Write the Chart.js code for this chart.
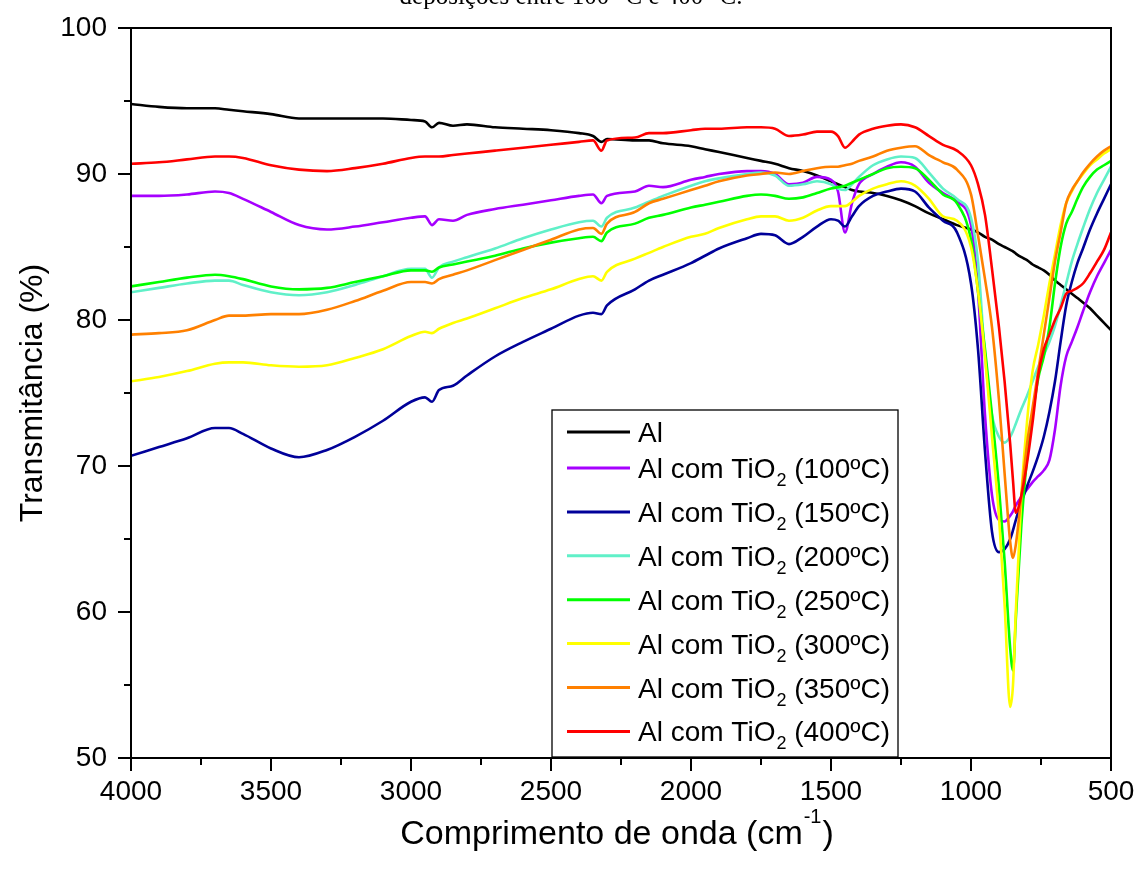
<!DOCTYPE html>
<html>
<head>
<meta charset="utf-8">
<title>FTIR - Al com TiO2</title>
<script src="https://cdn.jsdelivr.net/npm/chart.js@4.4.0/dist/chart.umd.min.js"></script>
<style>
  html, body { margin: 0; padding: 0; background: #fff; }
  #wrap { width: 1138px; height: 872px; }
</style>
</head>
<body>
<div id="wrap"><canvas id="ftir" width="1138" height="872"></canvas></div>
<script>
// ============================================================================
// Data
// ============================================================================

const WAVENUMBER = [
  4000, 3900, 3800, 3700, 3650, 3600,
  3500, 3400, 3300, 3200, 3100, 3000,
  2950, 2925, 2900, 2850, 2800,
  2700, 2600, 2500, 2400, 2350, 2320, 2300,
  2200, 2150, 2100, 2000, 1950, 1900,
  1800, 1750, 1700, 1650, 1600, 1550,
  1500, 1475, 1450, 1425, 1400,
  1350, 1300, 1250, 1200, 1150, 1100, 1050,
  1000, 975, 950, 925, 900,
  880, 860, 850, 840, 820, 800,
  780, 760, 740, 720, 700,
  680, 660, 640, 620, 600,
  575, 550, 525, 500
];

const T_AL = [
  94.8, 94.6, 94.5, 94.5, 94.4, 94.3,
  94.1, 93.8, 93.8, 93.8, 93.8, 93.7,
  93.6, 93.2, 93.5, 93.3, 93.4,
  93.2, 93.1, 93.0, 92.8, 92.6, 92.2, 92.4,
  92.3, 92.3, 92.1, 91.9, 91.7, 91.5,
  91.1, 90.9, 90.7, 90.4, 90.2, 89.9,
  89.5, 89.3, 89.1, 88.9, 88.8,
  88.7, 88.5, 88.2, 87.8, 87.3, 86.9, 86.5,
  86.2, 86.0, 85.7, 85.5, 85.2,
  85.0, 84.8, 84.7, 84.55, 84.3, 84.1,
  83.8, 83.6, 83.4, 83.1, 82.7,
  82.4, 82.1, 81.8, 81.5, 81.2,
  80.8, 80.3, 79.8, 79.3
];

const T_100 = [
  88.5, 88.5, 88.6, 88.8, 88.7, 88.3,
  87.4, 86.5, 86.2, 86.4, 86.7, 87.0,
  87.1, 86.5, 86.9, 86.8, 87.2,
  87.6, 87.9, 88.2, 88.5, 88.6, 88.0, 88.5,
  88.8, 89.2, 89.1, 89.6, 89.8, 90.0,
  90.2, 90.2, 90.0, 89.3, 89.4, 89.8,
  89.6, 88.8, 86.0, 88.0, 89.3,
  90.0, 90.5, 90.8, 90.5, 89.4, 88.7, 88.1,
  86.5, 82.0, 73.5, 68.0, 66.3,
  66.2, 66.6, 66.9, 67.3, 67.9, 68.4,
  68.9, 69.3, 69.7, 70.4, 72.5,
  75.5, 77.5, 78.5, 79.5, 80.6,
  81.9, 83.0, 83.9, 84.8
];

const T_150 = [
  70.7, 71.3, 71.9, 72.6, 72.6, 72.2,
  71.2, 70.6, 71.1, 72.0, 73.1, 74.4,
  74.7, 74.4, 75.2, 75.5, 76.2,
  77.5, 78.5, 79.4, 80.3, 80.5, 80.4, 81.0,
  82.1, 82.7, 83.1, 83.9, 84.4, 84.9,
  85.6, 85.9, 85.8, 85.2, 85.7, 86.4,
  86.9, 86.8, 86.4, 87.1, 87.8,
  88.5, 88.8, 89.0, 88.8, 87.7, 86.8, 86.0,
  82.5, 78.0, 71.0, 65.5, 64.1,
  64.3, 65.0, 65.6, 66.3, 67.5, 68.6,
  69.6, 70.7, 72.0, 73.7, 75.8,
  78.5, 81.0, 82.6, 83.9, 84.9,
  86.2, 87.3, 88.3, 89.3
];

const T_200 = [
  81.9, 82.2, 82.5, 82.7, 82.7, 82.4,
  81.9, 81.7, 81.9, 82.4, 83.0, 83.5,
  83.5, 82.9, 83.6, 84.0, 84.3,
  84.9, 85.6, 86.2, 86.7, 86.8, 86.4, 87.0,
  87.7, 88.1, 88.5, 89.2, 89.5, 89.7,
  90.0, 90.1, 89.9, 89.2, 89.3, 89.5,
  89.3, 89.0, 88.9, 89.3, 89.8,
  90.6, 91.0, 91.2, 91.1, 90.1, 89.0, 88.3,
  87.0, 84.0, 77.5, 73.5, 72.0,
  71.6, 72.0, 72.4, 72.9, 73.9, 74.8,
  75.8, 76.8, 77.6, 78.5, 79.6,
  81.0, 82.5, 84.0, 85.2, 86.3,
  87.6, 88.7, 89.6, 90.5
];

const T_250 = [
  82.3, 82.6, 82.9, 83.1, 83.0, 82.8,
  82.3, 82.1, 82.2, 82.6, 83.0, 83.4,
  83.4, 83.3, 83.6, 83.8, 84.0,
  84.4, 84.9, 85.3, 85.6, 85.7, 85.4, 86.0,
  86.6, 87.0, 87.2, 87.7, 87.9, 88.1,
  88.5, 88.6, 88.5, 88.3, 88.4, 88.7,
  89.0, 89.1, 89.2, 89.4, 89.6,
  90.0, 90.4, 90.5, 90.4, 89.6, 88.6, 88.0,
  85.5, 82.0, 78.0, 73.5, 68.5,
  63.5, 57.5, 56.0, 59.5, 66.0, 70.5,
  73.5, 76.0, 77.5, 79.5, 82.5,
  85.0, 86.6, 87.4, 88.3, 89.1,
  89.8, 90.3, 90.6, 90.9
];

const T_300 = [
  75.8, 76.1, 76.5, 77.0, 77.1, 77.1,
  76.9, 76.8, 76.9, 77.4, 78.0, 78.9,
  79.2, 79.1, 79.4, 79.8, 80.1,
  80.8, 81.5, 82.1, 82.8, 83.0, 82.7, 83.3,
  84.2, 84.6, 85.0, 85.7, 85.9, 86.3,
  86.9, 87.1, 87.1, 86.8, 87.0, 87.5,
  87.8, 87.8, 87.8, 88.1, 88.5,
  89.0, 89.3, 89.5, 89.2, 88.3, 87.1, 86.8,
  85.0, 82.0, 77.5, 72.0, 66.5,
  60.5, 53.5, 55.0, 60.0, 68.0, 73.0,
  76.5, 78.3, 80.3, 82.5, 84.5,
  86.5, 88.0, 88.8, 89.5, 90.0,
  90.6, 91.0, 91.4, 91.7
];

const T_350 = [
  79.0, 79.1, 79.3, 80.0, 80.3, 80.3,
  80.4, 80.4, 80.7, 81.3, 82.0, 82.6,
  82.6, 82.5, 82.8, 83.1, 83.4,
  84.1, 84.8, 85.5, 86.2, 86.3, 85.9, 86.6,
  87.4, 88.0, 88.3, 88.9, 89.2, 89.5,
  89.9, 90.0, 90.1, 90.0, 90.2, 90.4,
  90.5, 90.5, 90.6, 90.7, 90.9,
  91.2, 91.6, 91.8, 91.9, 91.3, 90.8, 90.3,
  88.6, 85.8, 82.8, 79.5, 74.5,
  69.5, 64.8, 63.7, 64.6, 68.0, 71.5,
  74.0, 76.5, 79.0, 81.5, 84.0,
  86.0, 88.0, 88.9, 89.5, 90.1,
  90.7, 91.2, 91.6, 91.9
];

const T_400 = [
  90.7, 90.8, 91.0, 91.2, 91.2, 91.1,
  90.6, 90.3, 90.2, 90.4, 90.7, 91.1,
  91.2, 91.2, 91.2, 91.3, 91.4,
  91.6, 91.8, 92.0, 92.2, 92.3, 91.6, 92.3,
  92.5, 92.8, 92.8, 93.0, 93.1, 93.1,
  93.2, 93.2, 93.1, 92.6, 92.7, 92.9,
  92.9, 92.6, 91.8, 92.2, 92.7,
  93.1, 93.3, 93.4, 93.2, 92.6, 92.0, 91.6,
  90.6, 89.3, 87.2, 83.5, 79.5,
  75.8, 71.5, 69.0, 66.8, 68.0, 70.2,
  73.0, 76.2, 78.0, 79.0, 80.0,
  80.8, 81.8, 82.0, 82.2, 82.5,
  83.2, 84.0, 84.8, 86.0
];

const SERIES_LABELS = [
  'Al',
  'Al com TiO2 (100ºC)',
  'Al com TiO2 (150ºC)',
  'Al com TiO2 (200ºC)',
  'Al com TiO2 (250ºC)',
  'Al com TiO2 (300ºC)',
  'Al com TiO2 (350ºC)',
  'Al com TiO2 (400ºC)'
];
const SERIES_VALUES = [T_AL, T_100, T_150, T_200, T_250, T_300, T_350, T_400];
const SERIES_COLORS = [
  '#000000', '#a600ff', '#000099', '#60f0c8',
  '#00ff00', '#ffff00', '#ff8000', '#ff0000'
];

const X_MIN = 500, X_MAX = 4000, X_MAJOR = 500, X_MINOR = 250;
const Y_MIN = 50, Y_MAX = 100, Y_MAJOR = 10, Y_MINOR = 5;

const FONT = "'Liberation Sans', Arial, sans-serif";

// ============================================================================
// Plugins: frame + ticks, axis titles, legend
// ============================================================================

const framePlugin = {
  id: 'frame',
  afterDraw(chart) {
    const { ctx, chartArea: a, scales: { x, y } } = chart;
    ctx.save();
    ctx.strokeStyle = '#000';
    ctx.lineWidth = 2;
    ctx.strokeRect(a.left, a.top, a.right - a.left, a.bottom - a.top);

    // outward ticks, major + minor
    ctx.beginPath();
    for (let v = X_MIN; v <= X_MAX; v += X_MINOR) {
      const px = Math.round(x.getPixelForValue(v));
      const len = v % X_MAJOR === 0 ? 13 : 7;
      ctx.moveTo(px, a.bottom);
      ctx.lineTo(px, a.bottom + len);
    }
    for (let v = Y_MIN; v <= Y_MAX; v += Y_MINOR) {
      const py = Math.round(y.getPixelForValue(v));
      const len = v % Y_MAJOR === 0 ? 13 : 7;
      ctx.moveTo(a.left, py);
      ctx.lineTo(a.left - len, py);
    }
    ctx.stroke();

    ctx.fillStyle = '#000';

    // caption cut off at the top of the figure
    ctx.font = "25px 'Liberation Serif', 'Times New Roman', serif";
    ctx.textAlign = 'center';
    ctx.textBaseline = 'alphabetic';
    ctx.fillText('deposições entre 100 °C e 400 °C.', 571, 4);

    // y axis title
    ctx.save();
    ctx.translate(42, (a.top + a.bottom) / 2);
    ctx.rotate(-Math.PI / 2);
    ctx.font = '32px ' + FONT;
    ctx.textAlign = 'center';
    ctx.fillText('Transmitância (%)', 0, 0);
    ctx.restore();

    // x axis title with superscript
    const big = '34px ' + FONT, small = '20px ' + FONT;
    const p1 = 'Comprimento de onda (cm', sup = '-1', p2 = ')';
    ctx.font = big;
    const w1 = ctx.measureText(p1).width, w3 = ctx.measureText(p2).width;
    ctx.font = small;
    const w2 = ctx.measureText(sup).width;
    let tx = (a.left + a.right) / 2 - (w1 + w2 + w3 + 2) / 2 - 4;
    const base = 844;
    ctx.textAlign = 'left';
    ctx.font = big;
    ctx.fillText(p1, tx, base);
    tx += w1 + 1;
    ctx.font = small;
    ctx.fillText(sup, tx, base - 21);
    tx += w2 + 1;
    ctx.font = big;
    ctx.fillText(p2, tx, base);

    ctx.restore();
  }
};

const legendPlugin = {
  id: 'subLegend',
  afterDatasetsDraw(chart) {
    const ctx = chart.ctx;
    const box = { left: 552, top: 410, right: 898, bottom: 757 };
    ctx.save();
    ctx.fillStyle = '#fff';
    ctx.fillRect(box.left, box.top, box.right - box.left, box.bottom - box.top);
    ctx.strokeStyle = '#000';
    ctx.lineWidth = 1.3;
    ctx.strokeRect(box.left, box.top, box.right - box.left, box.bottom - box.top);

    const big = '28px ' + FONT, small = '18px ' + FONT;
    SERIES_LABELS.forEach((label, i) => {
      const rowY = i === 0 ? 432 : 468 + (i - 1) * 43.9;
      ctx.strokeStyle = SERIES_COLORS[i];
      ctx.lineWidth = 3;
      ctx.beginPath();
      ctx.moveTo(567, rowY);
      ctx.lineTo(630, rowY);
      ctx.stroke();

      ctx.fillStyle = '#000';
      ctx.textAlign = 'left';
      ctx.textBaseline = 'alphabetic';
      const base = rowY + 10;
      let tx = 638;
      const parts = label.split('TiO2');
      ctx.font = big;
      if (parts.length === 1) {
        ctx.fillText(label, tx, base);
        return;
      }
      const head = parts[0] + 'TiO';
      ctx.fillText(head, tx, base);
      tx += ctx.measureText(head).width + 1;
      ctx.font = small;
      ctx.fillText('2', tx, base + 8);
      tx += ctx.measureText('2').width;
      ctx.font = big;
      ctx.fillText(parts[1], tx, base);
    });
    ctx.restore();
  }
};

// ============================================================================
// Chart
// ============================================================================

const datasets = SERIES_LABELS.map((label, i) => ({
  label: label,
  data: WAVENUMBER.map((w, k) => ({ x: w, y: SERIES_VALUES[i][k] })),
  borderColor: SERIES_COLORS[i],
  backgroundColor: SERIES_COLORS[i],
  borderWidth: 2.6,
  pointRadius: 0,
  fill: false,
  cubicInterpolationMode: 'monotone',
  // later series are painted on top, as in the original plot
  order: SERIES_LABELS.length - i
}));

new Chart(document.getElementById('ftir'), {
  type: 'line',
  data: { datasets: datasets },
  options: {
    responsive: false,
    animation: false,
    layout: { padding: { top: 28, right: 27, left: 0, bottom: 0 } },
    plugins: {
      legend: { display: false },
      tooltip: { enabled: false },
      title: { display: false }
    },
    scales: {
      x: {
        type: 'linear',
        reverse: true,
        min: X_MIN,
        max: X_MAX,
        grid: { display: false, drawTicks: false },
        border: { display: false },
        ticks: {
          stepSize: X_MAJOR,
          padding: 17,
          color: '#000',
          maxRotation: 0,
          autoSkip: false,
          font: { family: FONT, size: 28 },
          callback: v => String(v)
        },
        afterFit(scale) {
          scale.height = 114;
          scale.paddingLeft = 0;
          scale.paddingRight = 0;
        }
      },
      y: {
        type: 'linear',
        min: Y_MIN,
        max: Y_MAX,
        grid: { display: false, drawTicks: false },
        border: { display: false },
        ticks: {
          stepSize: Y_MAJOR,
          padding: 24,
          color: '#000',
          font: { family: FONT, size: 28 },
          callback: v => String(v)
        },
        afterFit(scale) {
          scale.width = 131;
          scale.paddingTop = 0;
          scale.paddingBottom = 0;
        }
      }
    }
  },
  plugins: [framePlugin, legendPlugin]
});
</script>
</body>
</html>
